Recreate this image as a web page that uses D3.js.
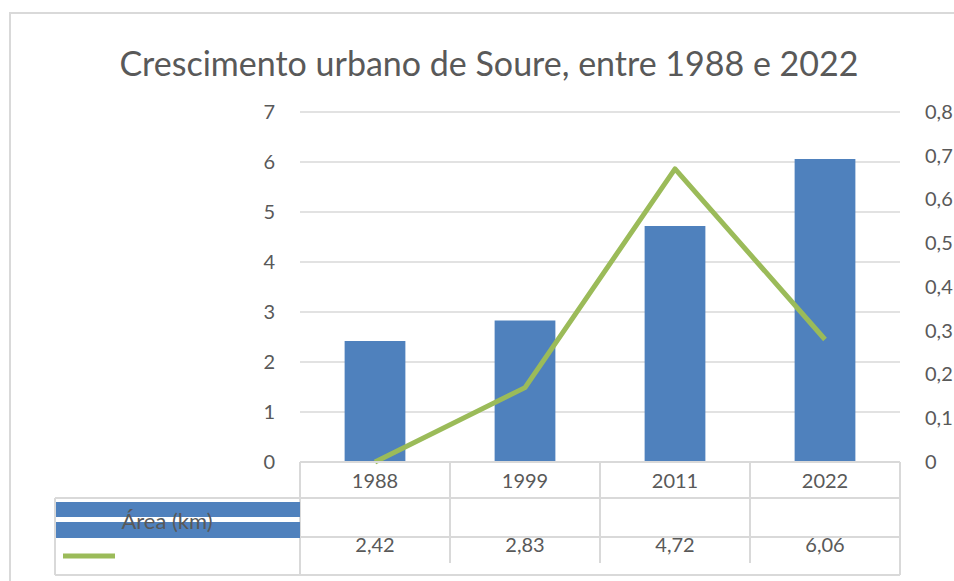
<!DOCTYPE html>
<html>
<head>
<meta charset="utf-8">
<script src="https://cdn.jsdelivr.net/npm/d3@7/dist/d3.min.js"></script>
<style>
  html, body { margin: 0; padding: 0; background: #fff; }
  svg { display: block; }
  text { font-family: Lato, "Open Sans", sans-serif; fill: #595959; }
</style>
</head>
<body>
<svg id="chart" width="954" height="581"></svg>
<script>
// ---- Data ----
const title = "Crescimento urbano de Soure, entre 1988 e 2022";
const years = ["1988", "1999", "2011", "2022"];
const area = [2.42, 2.83, 4.72, 6.06];          // Área (km) – bars, left axis
const growth = [0, 0.17, 0.67, 0.28];           // line, right axis
const leftTicks = [0, 1, 2, 3, 4, 5, 6, 7];
const rightTicks = [0, 0.1, 0.2, 0.3, 0.4, 0.5, 0.6, 0.7, 0.8];
const barLabel = "Área (km)";
const valueLabels = ["2,42", "2,83", "4,72", "6,06"];

// ---- Layout ----
const svg = d3.select("#chart");
const plotL = 300, plotR = 900, plotT = 112, plotB = 462;
const grid = "#d9d9d9";
const blue = "#4f81bd", green = "#9bbb59";

// outer border
svg.append("rect").attr("x", 10).attr("y", 13).attr("width", 1000).attr("height", 1000)
  .attr("fill", "none").attr("stroke", grid).attr("stroke-width", 2);

// title
svg.append("text").attr("x", 489).attr("y", 76).attr("text-anchor", "middle")
  .attr("font-size", 34).text(title);

const x = d3.scaleBand().domain(years).range([plotL, plotR]).paddingInner(0).paddingOuter(0);
const yL = d3.scaleLinear().domain([0, 7]).range([plotB, plotT]);
const yR = d3.scaleLinear().domain([0, 0.8]).range([plotB, plotT]);

// gridlines
svg.append("g").selectAll("line").data(leftTicks.filter(d => d > 0)).join("line")
  .attr("x1", plotL).attr("x2", plotR)
  .attr("y1", d => yL(d)).attr("y2", d => yL(d))
  .attr("stroke", grid).attr("stroke-width", 1.5);

// left axis
const axL = svg.append("g").attr("transform", `translate(${plotL - 22},0)`)
  .call(d3.axisLeft(yL).tickValues(leftTicks).tickSize(0).tickFormat(d3.format("d")));
axL.select(".domain").remove();
axL.selectAll("text").attr("font-size", 20).attr("fill", "#595959")
  .style("font-family", "Lato, 'Open Sans', sans-serif");

// right axis
const fmtR = d => d === 0 ? "0" : d3.format(".1f")(d).replace(".", ",");
const axR = svg.append("g").attr("transform", `translate(${plotR + 22},0)`)
  .call(d3.axisRight(yR).tickValues(rightTicks).tickSize(0).tickFormat(fmtR));
axR.select(".domain").remove();
axR.selectAll("text").attr("font-size", 20).attr("fill", "#595959")
  .style("font-family", "Lato, 'Open Sans', sans-serif");

// bars
const bw = x.bandwidth() * 0.405;
svg.append("g").selectAll("rect").data(years).join("rect")
  .attr("x", (d) => x(d) + x.bandwidth() / 2 - bw / 2)
  .attr("width", bw)
  .attr("y", (d, i) => yL(area[i]))
  .attr("height", (d, i) => yL(0) - yL(area[i]))
  .attr("fill", blue);

// line
const line = d3.line()
  .x((d, i) => x(years[i]) + x.bandwidth() / 2)
  .y(d => yR(d));
svg.append("path").datum(growth).attr("d", line)
  .attr("fill", "none").attr("stroke", green).attr("stroke-width", 5)
  .attr("stroke-linejoin", "round");

// ---- Data table ----
const tRow1 = 498, tRow2 = 537, tBot = 575, legL = 55;
const tbl = svg.append("g").attr("stroke", grid).attr("stroke-width", 2);
// horizontal lines
tbl.append("line").attr("x1", plotL).attr("x2", plotR).attr("y1", plotB).attr("y2", plotB);
tbl.append("line").attr("x1", legL).attr("x2", plotR).attr("y1", tRow1).attr("y2", tRow1);
tbl.append("line").attr("x1", plotL).attr("x2", plotR).attr("y1", tRow2).attr("y2", tRow2);
tbl.append("line").attr("x1", legL).attr("x2", plotR).attr("y1", tBot).attr("y2", tBot);
// vertical lines
tbl.append("line").attr("x1", legL).attr("x2", legL).attr("y1", tRow1).attr("y2", tBot);
tbl.append("line").attr("x1", plotL).attr("x2", plotL).attr("y1", plotB).attr("y2", tBot);
tbl.append("line").attr("x1", plotR).attr("x2", plotR).attr("y1", plotB).attr("y2", tBot);
tbl.selectAll("line.inner").data(years.slice(1)).join("line").attr("class", "inner")
  .attr("x1", d => x(d)).attr("x2", d => x(d))
  .attr("y1", plotB).attr("y2", 563);

// year labels
svg.append("g").selectAll("text").data(years).join("text")
  .attr("x", d => x(d) + x.bandwidth() / 2).attr("y", 481)
  .attr("dy", "0.35em").attr("text-anchor", "middle").attr("font-size", 20)
  .text(d => d);

// legend keys
svg.append("rect").attr("x", legL + 1).attr("y", 502).attr("width", plotL - legL - 1).attr("height", 15).attr("fill", blue);
svg.append("rect").attr("x", legL + 1).attr("y", 522).attr("width", plotL - legL - 1).attr("height", 16).attr("fill", blue);
svg.append("text").attr("x", 167).attr("y", 521).attr("dy", "0.35em")
  .attr("text-anchor", "middle").attr("font-size", 22).text(barLabel);
svg.append("line").attr("x1", 63).attr("x2", 115).attr("y1", 556).attr("y2", 556)
  .attr("stroke", green).attr("stroke-width", 5);

// values
svg.append("g").selectAll("text").data(valueLabels).join("text")
  .attr("x", (d, i) => x(years[i]) + x.bandwidth() / 2).attr("y", 545)
  .attr("dy", "0.35em").attr("text-anchor", "middle").attr("font-size", 20)
  .text(d => d);
</script>
</body>
</html>
